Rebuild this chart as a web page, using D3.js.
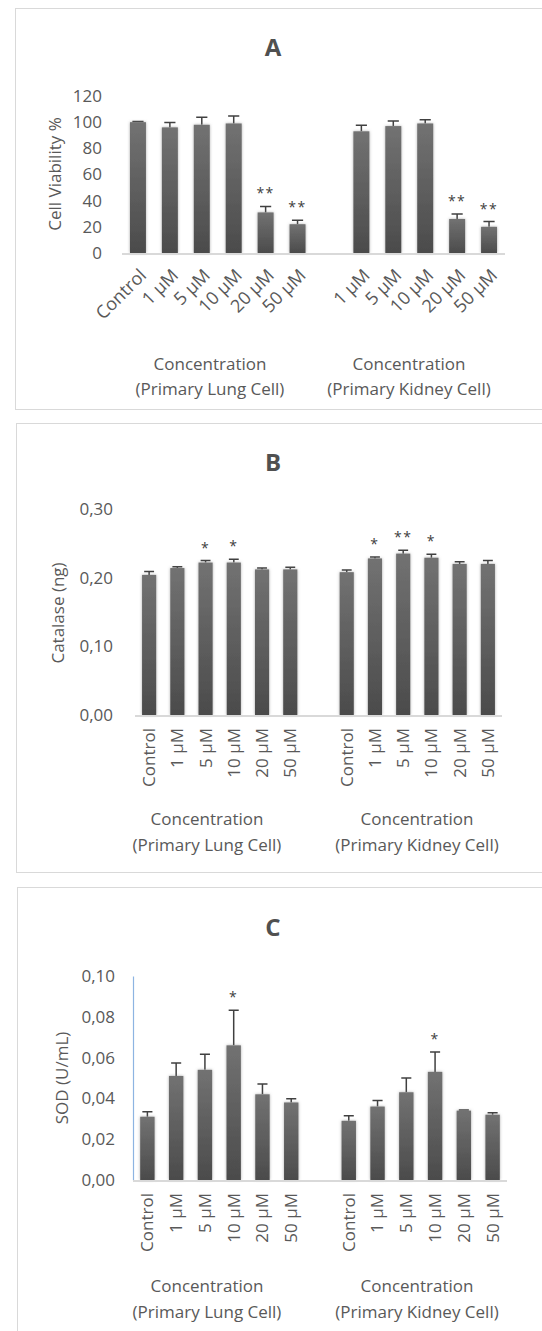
<!DOCTYPE html>
<html lang="en">
  <head>
    <meta charset="utf-8">
    <title>Cell viability, catalase, SOD</title>
    <script src="https://d3js.org/d3.v7.min.js"></script>
    <style>
      body { margin: 0; background: #fff; }
      text { font-family: "Open Sans", sans-serif; fill: #595959; }
    </style>
  </head>
  <body>
    <script type="text/javascript">

      var w = 542;
      var h = 1331;

      // categories
      var lungCats = ["Control", "1 µM", "5 µM", "10 µM", "20 µM", "50 µM"];
      var kidneyCats = ["Control", "1 µM", "5 µM", "10 µM", "20 µM", "50 µM"];
      var kidneyCatsA = ["1 µM", "5 µM", "10 µM", "20 µM", "50 µM"];
      var groupTitle = "Concentration";
      var lungTitle = "(Primary Lung Cell)";
      var kidneyTitle = "(Primary Kidney Cell)";

      // A: cell viability %
      var viabLung = [100, 96, 98, 99, 31, 22];
      var viabLungErr = [0.5, 3.7, 5.8, 5.8, 4.6, 3];
      var viabLungSig = ["", "", "", "", "**", "**"];
      var viabKidney = [93, 97, 99, 26, 20];
      var viabKidneyErr = [4.6, 3.8, 2.8, 3.8, 4];
      var viabKidneySig = ["", "", "", "**", "**"];
      var viabTicks = [0, 20, 40, 60, 80, 100, 120];

      // B: catalase (ng)
      var catLung = [0.204, 0.214, 0.222, 0.222, 0.212, 0.212];
      var catLungErr = [0.005, 0.002, 0.003, 0.005, 0.002, 0.003];
      var catLungSig = ["", "", "*", "*", "", ""];
      var catKidney = [0.208, 0.228, 0.235, 0.229, 0.220, 0.220];
      var catKidneyErr = [0.003, 0.002, 0.005, 0.005, 0.003, 0.005];
      var catKidneySig = ["", "*", "**", "*", "", ""];
      var catTicks = [0, 0.1, 0.2, 0.3];

      // C: SOD (U/mL)
      var sodLung = [0.031, 0.051, 0.054, 0.066, 0.042, 0.038];
      var sodLungErr = [0.0025, 0.0064, 0.0077, 0.0172, 0.005, 0.0018];
      var sodLungSig = ["", "", "", "*", "", ""];
      var sodKidney = [0.029, 0.036, 0.043, 0.053, 0.034, 0.032];
      var sodKidneyErr = [0.0025, 0.003, 0.007, 0.0097, 0.0003, 0.001];
      var sodKidneySig = ["", "", "", "*", "", ""];
      var sodTicks = [0, 0.02, 0.04, 0.06, 0.08, 0.10];

      var svg = d3.select("body")
                  .append("svg")
                  .attr("width", w)
                  .attr("height", h);

      var defs = svg.append("defs");
      var grad = defs.append("linearGradient")
                     .attr("id", "barGrad")
                     .attr("x1", 0).attr("y1", 0).attr("x2", 0).attr("y2", 1);
      grad.append("stop").attr("offset", "0%").attr("stop-color", "#727272");
      grad.append("stop").attr("offset", "100%").attr("stop-color", "#4b4b4b");

      var glow = defs.append("filter")
                     .attr("id", "glow")
                     .attr("x", "-50%").attr("y", "-10%")
                     .attr("width", "200%").attr("height", "120%");
      glow.append("feDropShadow")
          .attr("dx", 0).attr("dy", 0)
          .attr("stdDeviation", 1.8)
          .attr("flood-color", "#777")
          .attr("flood-opacity", 0.6);

      var comma = function(d) { return d3.format(".2f")(d).replace(".", ","); };

      function build(lc, lv, le, ls, kc, kv, ke, ks) {
        var rows = [];
        lc.forEach(function(c, i) {
          rows.push({key: "L " + c, label: c, v: lv[i], e: le[i], s: ls[i]});
        });
        rows.push({key: "gap", label: "", v: null});
        kc.forEach(function(c, i) {
          rows.push({key: "K " + c, label: c, v: kv[i], e: ke[i], s: ks[i]});
        });
        return rows;
      }

      var panels = [
        {
          title: "A", box: [15, 8, 560, 401], titleY: 56,
          x0: 122, x1: 505, y0: 253, y1: 96,
          domain: [0, 120], ticks: viabTicks, fmt: d3.format("d"), pad: 20,
          ytitle: "Cell Viability %", ytx: 55, yty: 174,
          rows: build(lungCats, viabLung, viabLungErr, viabLungSig,
                      kidneyCatsA, viabKidney, viabKidneyErr, viabKidneySig),
          rot: -45, labDx: 5, labDy: 19, labSize: "18px",
          gx: [210, 409], gy: [370, 395], axisLine: false
        },
        {
          title: "B", box: [16, 423, 560, 449], titleY: 471,
          x0: 135, x1: 502, y0: 715, y1: 509,
          domain: [0, 0.30], ticks: catTicks, fmt: comma, pad: 22,
          ytitle: "Catalase (ng)", ytx: 58, yty: 613,
          rows: build(lungCats, catLung, catLungErr, catLungSig,
                      kidneyCats, catKidney, catKidneyErr, catKidneySig),
          rot: -90, labDx: 0, labDy: 13, labSize: "17px",
          gx: [207, 417], gy: [825, 851], axisLine: false
        },
        {
          title: "C", box: [17, 887, 560, 460], titleY: 936,
          x0: 133, x1: 507, y0: 1180, y1: 976,
          domain: [0, 0.10], ticks: sodTicks, fmt: comma, pad: 18,
          ytitle: "SOD (U/mL)", ytx: 62, yty: 1078,
          rows: build(lungCats, sodLung, sodLungErr, sodLungSig,
                      kidneyCats, sodKidney, sodKidneyErr, sodKidneySig),
          rot: -90, labDx: 0, labDy: 13, labSize: "17px",
          gx: [207, 417], gy: [1292, 1318], axisLine: true
        }
      ];

      panels.forEach(function(p) {
        var g = svg.append("g");

        g.append("rect")
         .attr("x", p.box[0] + 0.5).attr("y", p.box[1] + 0.5)
         .attr("width", p.box[2]).attr("height", p.box[3])
         .attr("fill", "none")
         .attr("stroke", "#d9d9d9");

        g.append("text")
         .attr("x", 273).attr("y", p.titleY)
         .attr("text-anchor", "middle")
         .style("font-size", "24px")
         .style("font-weight", "bold")
         .style("fill", "#505050")
         .text(p.title);

        var x = d3.scaleBand()
                  .domain(p.rows.map(d => d.key))
                  .range([p.x0, p.x1])
                  .paddingInner(0.5)
                  .paddingOuter(0.25);

        var y = d3.scaleLinear()
                  .domain(p.domain)
                  .range([p.y0, p.y1]);

        var yAxis = d3.axisLeft(y)
                      .tickValues(p.ticks)
                      .tickFormat(p.fmt)
                      .tickSize(0)
                      .tickPadding(p.pad);

        var ya = g.append("g")
                  .attr("transform", "translate(" + p.x0 + ",0)")
                  .call(yAxis);
        ya.selectAll("text")
          .style("font-size", "17px")
          .style("font-family", "'Open Sans', sans-serif")
          .attr("fill", "#595959");
        if (p.axisLine) {
          ya.select(".domain").attr("stroke", "#8db4e2").attr("stroke-width", 1.2);
        } else {
          ya.select(".domain").remove();
        }

        g.append("text")
         .attr("transform", "translate(" + p.ytx + "," + p.yty + ") rotate(-90)")
         .attr("text-anchor", "middle")
         .attr("dy", "0.35em")
         .style("font-size", "17px")
         .text(p.ytitle);

        var data = p.rows.filter(d => d.v !== null);
        var bw = x.bandwidth();

        // error bars (upper half only)
        g.selectAll(".err")
         .data(data)
         .enter()
         .append("path")
         .attr("d", d => {
           var cx = x(d.key) + bw / 2;
           var top = y(d.v + d.e);
           return "M" + cx + "," + y(d.v) + "V" + top +
                  "M" + (cx - bw * 0.35) + "," + top + "H" + (cx + bw * 0.35);
         })
         .attr("stroke", "#404040")
         .attr("stroke-width", 1.5)
         .attr("fill", "none");

        g.selectAll(".bar")
         .data(data)
         .enter()
         .append("rect")
         .attr("x", d => x(d.key))
         .attr("y", d => y(d.v))
         .attr("width", bw)
         .attr("height", d => y(0) - y(d.v))
         .attr("fill", "url(#barGrad)")
         .attr("filter", "url(#glow)");

        // baseline
        g.append("line")
         .attr("x1", p.x0).attr("x2", p.x1)
         .attr("y1", y(0) + 1).attr("y2", y(0) + 1)
         .attr("stroke", "#d9d9d9")
         .attr("stroke-width", 2);

        // significance stars
        g.selectAll(".sig")
         .data(data.filter(d => d.s))
         .enter()
         .append("text")
         .attr("x", d => x(d.key) + bw / 2)
         .attr("y", d => y(d.v + d.e) - 8)
         .attr("text-anchor", "middle")
         .style("font-size", "14px")
         .style("letter-spacing", "1.5px")
         .style("fill", "#404040")
         .text(d => d.s);

        // category labels
        g.selectAll(".lab")
         .data(data)
         .enter()
         .append("text")
         .attr("transform", d => "translate(" + (x(d.key) + bw / 2 + p.labDx) + "," +
                                 (y(0) + p.labDy) + ") rotate(" + p.rot + ")")
         .attr("text-anchor", "end")
         .attr("dy", "0.35em")
         .style("font-size", p.labSize)
         .text(d => d.label);

        // group titles
        [lungTitle, kidneyTitle].forEach(function(t, i) {
          g.append("text")
           .attr("x", p.gx[i]).attr("y", p.gy[0])
           .attr("text-anchor", "middle")
           .style("font-size", "17px")
           .text(groupTitle);
          g.append("text")
           .attr("x", p.gx[i]).attr("y", p.gy[1])
           .attr("text-anchor", "middle")
           .style("font-size", "17px")
           .text(t);
        });
      });

    </script>
  </body>
</html>
